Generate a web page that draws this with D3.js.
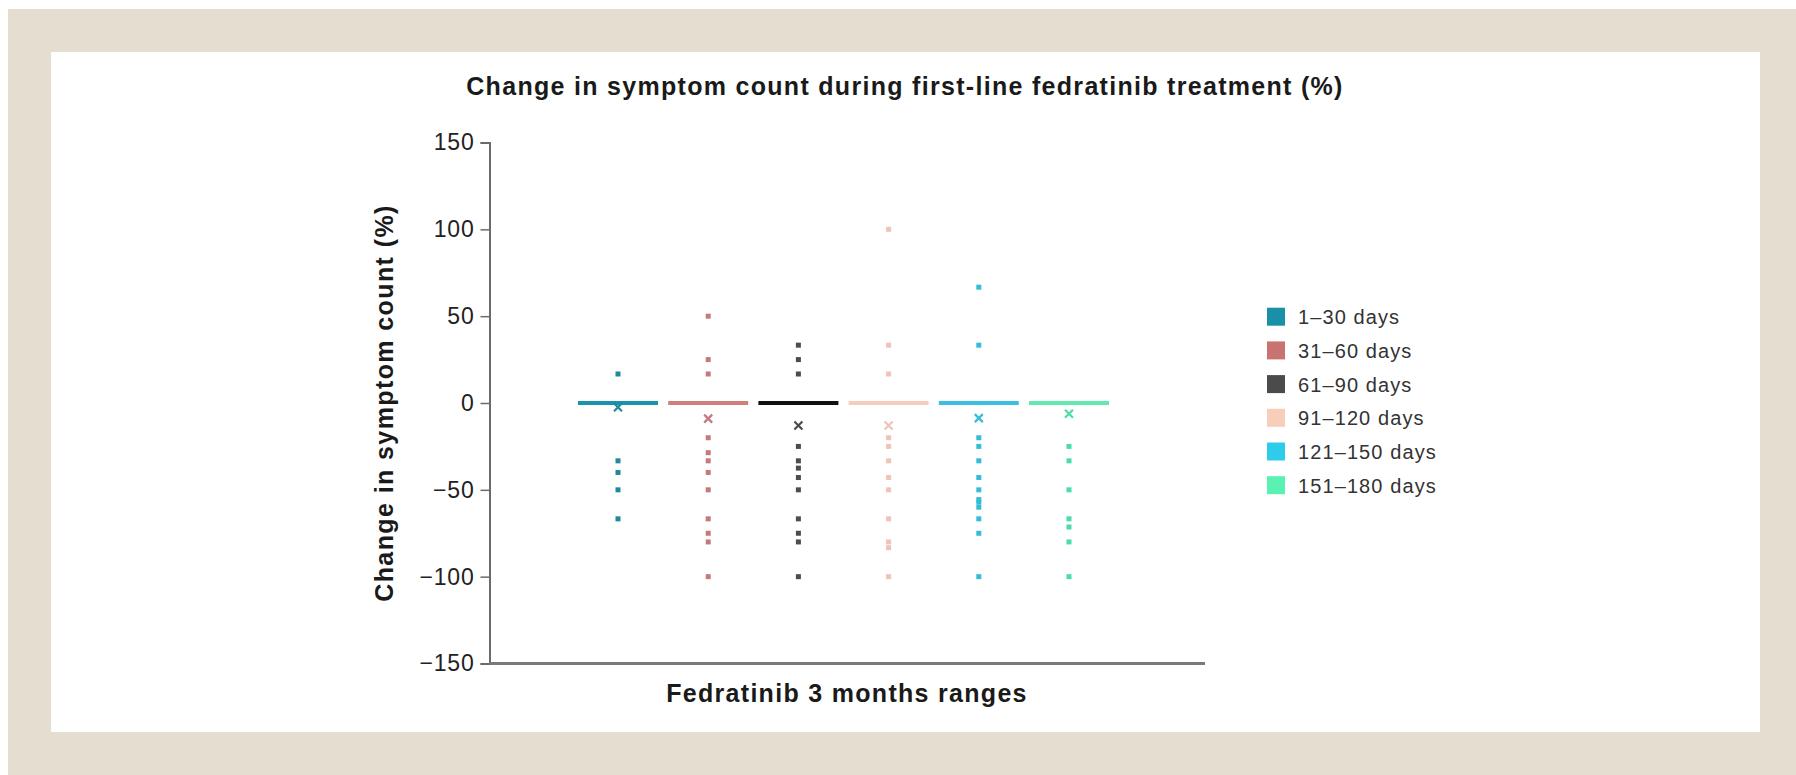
<!DOCTYPE html>
<html>
<head>
<meta charset="utf-8">
<script src="https://cdn.jsdelivr.net/npm/d3@7"></script>
<style>
  html, body { margin: 0; padding: 0; background: #fff; }
  svg { display: block; font-family: "Liberation Sans", Arial, Helvetica, sans-serif; }
</style>
</head>
<body>
<svg id="chart" width="1796" height="775"></svg>
<script>
// Day ranges (one column each)
const groups = ['1–30 days', '31–60 days', '61–90 days', '91–120 days', '121–150 days', '151–180 days'];

// Individual patient changes (%)
const vals1_30 = [16.7, -33.3, -40, -50, -66.7];
const vals31_60 = [50, 25, 16.7, -20, -28.6, -33.3, -40, -50, -66.7, -75, -80, -100];
const vals61_90 = [33.3, 25, 16.7, -25, -33.3, -37.5, -42.9, -50, -66.7, -75, -80, -100];
const vals91_120 = [100, 33.3, 16.7, -20, -25, -33.3, -42.9, -50, -66.7, -80, -83.3, -100];
const vals121_150 = [66.7, 33.3, -20, -25, -33.3, -42.9, -50, -55.6, -57.1, -60, -66.7, -75, -100];
const vals151_180 = [-25, -33.3, -50, -66.7, -71.4, -80, -100];

// Median (bar) and mean (x marker) per group
const medians = [0, 0, 0, 0, 0, 0];
const means = [-2.4, -9, -13, -13, -8.7, -6.2];

const yTicks = [-150, -100, -50, 0, 50, 100, 150];

const legendColors = ['#1790a8', '#c8736f', '#4d4a4c', '#f8cdb9', '#2fcbea', '#5af2b2'];
const lineColors = ['#1b93ad', '#cf7f7c', '#111111', '#f6cdbd', '#3bbfe0', '#63e8b0'];
const dotColors = ['#21899c', '#c47a7d', '#4e4b4d', '#eec5b5', '#35bcd8', '#4cdca8'];

const series = [vals1_30, vals31_60, vals61_90, vals91_120, vals121_150, vals151_180];

const svg = d3.select('#chart');

// page background + white card
svg.append('rect').attr('x', 8).attr('y', 9).attr('width', 1788).attr('height', 766).attr('fill', '#e4ded1');
svg.append('rect').attr('x', 51).attr('y', 52).attr('width', 1709).attr('height', 680).attr('fill', '#fff');

const axisX = 489.5, axisEnd = 1205;
const y = d3.scaleLinear().domain([-150, 150]).range([663.5, 142.5]);
const x = d3.scalePoint().domain(groups).range([618, 1069]);

// y axis
const yAxis = svg.append('g')
  .attr('transform', `translate(${axisX},0)`)
  .call(d3.axisLeft(y).tickValues(yTicks).tickSize(9).tickPadding(6)
    .tickFormat(d => d < 0 ? '−' + Math.abs(d) : d));
yAxis.select('.domain').attr('stroke', '#6b6b6b').attr('stroke-width', 2);
yAxis.selectAll('.tick line').attr('stroke', '#6b6b6b').attr('stroke-width', 1.5);
yAxis.selectAll('.tick text')
  .attr('fill', '#222').attr('font-size', 23).attr('letter-spacing', 0.8)
  .attr('font-family', '"Liberation Sans", Arial, sans-serif');

// x axis line
svg.append('line')
  .attr('x1', axisX).attr('x2', axisEnd)
  .attr('y1', y(-150)).attr('y2', y(-150))
  .attr('stroke', '#7a7a7a').attr('stroke-width', 3);

// median bars
svg.selectAll('.median')
  .data(groups)
  .enter()
  .append('line')
  .attr('class', 'median')
  .attr('x1', d => x(d) - 40)
  .attr('x2', d => x(d) + 40)
  .attr('y1', (d, i) => y(medians[i]))
  .attr('y2', (d, i) => y(medians[i]))
  .attr('stroke', (d, i) => lineColors[i])
  .attr('stroke-width', 4);

// dots (small squares)
groups.forEach((g, i) => {
  svg.selectAll('.dot-' + i)
    .data(series[i])
    .enter()
    .append('rect')
    .attr('class', 'dot-' + i)
    .attr('x', x(g) - 2.5)
    .attr('y', d => y(d) - 2.5)
    .attr('width', 5)
    .attr('height', 5)
    .attr('fill', dotColors[i]);
});

// mean markers (x in a box)
const meanG = svg.selectAll('.mean')
  .data(groups)
  .enter()
  .append('g')
  .attr('class', 'mean')
  .attr('transform', (d, i) => `translate(${x(d)},${y(means[i])})`);
meanG.append('path')
  .attr('d', 'M-4,-4L4,4M-4,4L4,-4')
  .attr('stroke', (d, i) => dotColors[i])
  .attr('stroke-width', 2.2);

// title
svg.append('text')
  .attr('x', 905).attr('y', 95)
  .attr('text-anchor', 'middle')
  .attr('font-size', 25).attr('font-weight', 'bold')
  .attr('letter-spacing', 1.3)
  .attr('fill', '#1a1a1a')
  .text('Change in symptom count during first-line fedratinib treatment (%)');

// x axis label
svg.append('text')
  .attr('x', 847).attr('y', 702)
  .attr('text-anchor', 'middle')
  .attr('font-size', 25).attr('font-weight', 'bold')
  .attr('letter-spacing', 1.3)
  .attr('fill', '#1a1a1a')
  .text('Fedratinib 3 months ranges');

// y axis label
svg.append('text')
  .attr('transform', `translate(393,${y(0)}) rotate(-90)`)
  .attr('text-anchor', 'middle')
  .attr('font-size', 25).attr('font-weight', 'bold')
  .attr('letter-spacing', 1.4)
  .attr('fill', '#1a1a1a')
  .text('Change in symptom count (%)');

// legend
const legend = svg.selectAll('.legend')
  .data(groups)
  .enter()
  .append('g')
  .attr('class', 'legend')
  .attr('transform', (d, i) => `translate(1267,${316.7 + i * 33.7})`);
legend.append('rect')
  .attr('x', 0).attr('y', -9)
  .attr('width', 18).attr('height', 18)
  .attr('fill', (d, i) => legendColors[i]);
legend.append('text')
  .attr('x', 31).attr('y', 7.5)
  .attr('font-size', 20)
  .attr('letter-spacing', 1.1)
  .attr('fill', '#333')
  .text(d => d);
</script>
</body>
</html>
